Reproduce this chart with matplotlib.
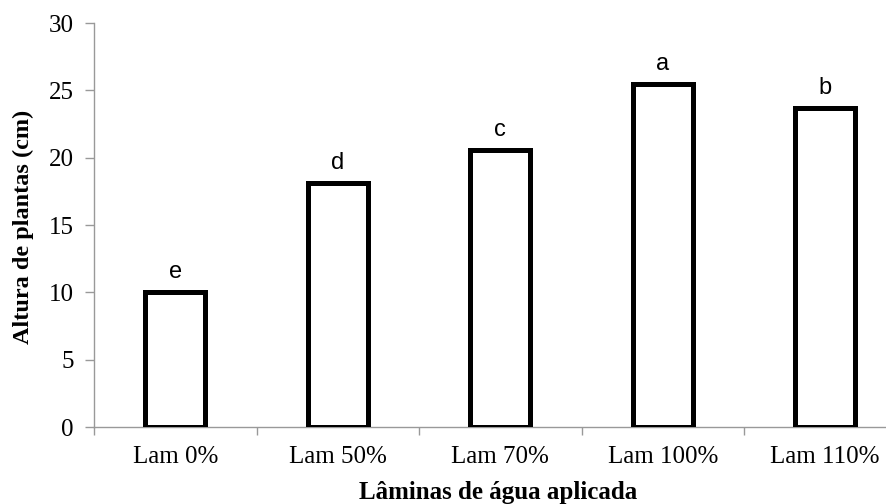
import matplotlib
matplotlib.use("Agg")
import matplotlib.pyplot as plt
import numpy as np

categories = ["Lam 0%", "Lam 50%", "Lam 70%", "Lam 100%", "Lam 110%"]
values = [10.0, 18.1, 20.6, 25.5, 23.7]
letters = ["e", "d", "c", "a", "b"]
yticks = [0, 5, 10, 15, 20, 25, 30]

fig = plt.figure(figsize=(8.87, 5.04), dpi=100)
ax = fig.add_axes([94/887, 77/504, 812.5/887, 404/504])

x = np.arange(len(categories))
ax.bar(x, values, width=0.37, facecolor="white", edgecolor="black", linewidth=3.6, zorder=3)

for xi, v, l in zip(x, values, letters):
    ax.annotate(l, (xi, v), xytext=(0, 10), textcoords="offset points",
                ha="center", va="baseline", fontsize=17, family="Liberation Sans")

ax.set_xlim(-0.5, len(categories) - 0.5)
ax.set_ylim(0, 30)
ax.set_yticks(yticks)
ax.set_yticklabels([str(t) for t in yticks], family="Liberation Serif", fontsize=18)
ax.set_xticks(x)
ax.set_xticklabels(categories, family="Liberation Serif", fontsize=18)
ax.set_xticks(np.arange(-0.5, len(categories), 1.0), minor=True)
ax.tick_params(axis="x", which="major", length=0, pad=14)
ax.tick_params(axis="x", which="minor", length=6, color="#999999", width=1)
ax.tick_params(axis="y", length=6.5, color="#999999", width=1, pad=8)

for s in ["top", "right"]:
    ax.spines[s].set_visible(False)
for s in ["left", "bottom"]:
    ax.spines[s].set_color("#999999")
    ax.spines[s].set_linewidth(1)

fig.text(23/887, 1 - 227/504, "Altura de plantas (cm)", family="Liberation Serif",
         fontweight="bold", fontsize=17.5, rotation=90, ha="center", va="center")
fig.text(498/887, 1 - 493/504, "Lâminas de água aplicada", family="Liberation Serif",
         fontweight="bold", fontsize=18, ha="center", va="center")

fig.savefig("out.png", dpi=100)
